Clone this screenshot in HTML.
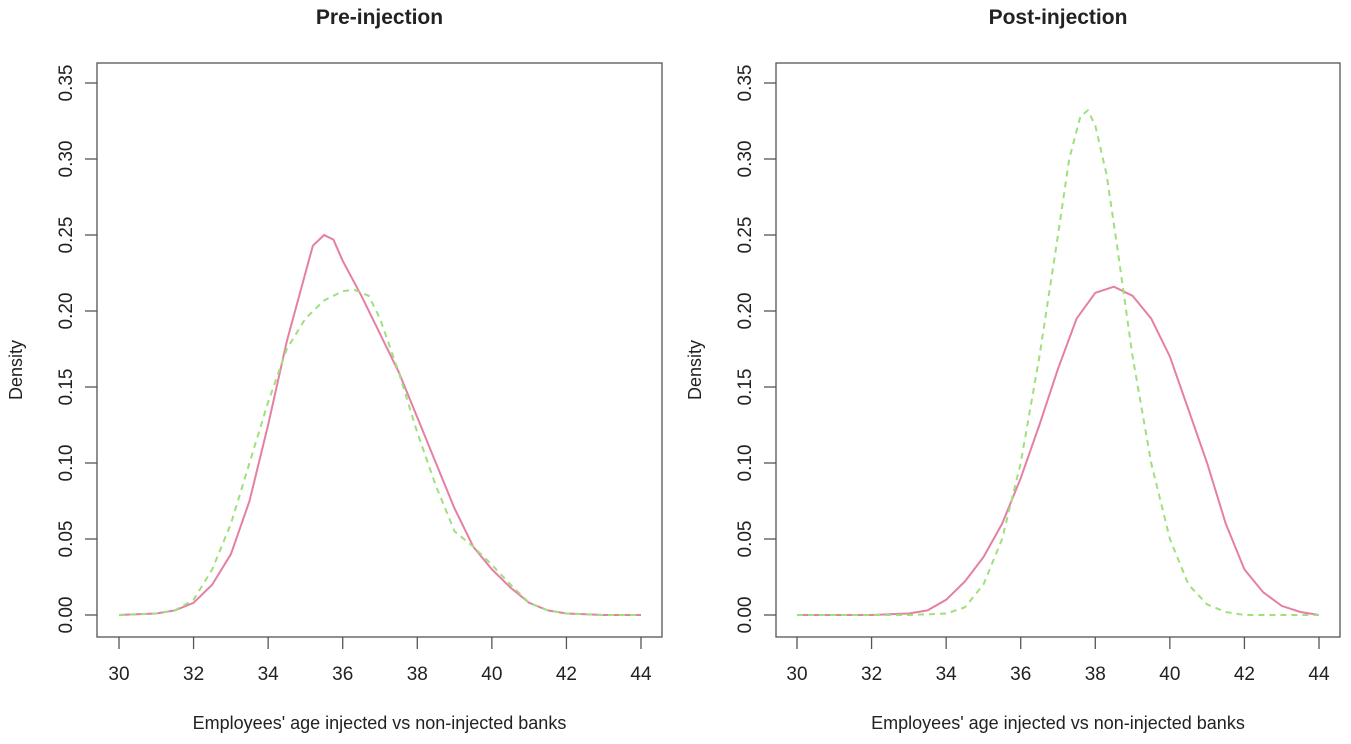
<!DOCTYPE html>
<html><head><meta charset="utf-8"><style>
body{margin:0;background:#fff;}
svg text{font-family:"Liberation Sans",sans-serif;fill:#222;}
</style></head><body>
<svg id="chart" width="1351" height="739" xmlns="http://www.w3.org/2000/svg"></svg>
<script>
const xTicks=[30,32,34,36,38,40,42,44];
const yTicks=[0,0.05,0.10,0.15,0.20,0.25,0.30,0.35];
const yTickLabels=["0.00","0.05","0.10","0.15","0.20","0.25","0.30","0.35"];
const preInjectedX=[30,31,31.5,32,32.5,33,33.5,34,34.5,35,35.2,35.5,35.75,36,36.5,37,37.5,38,38.5,39,39.5,40,40.5,41,41.5,42,43,44];
const preInjectedY=[0,0.001,0.003,0.008,0.02,0.04,0.075,0.125,0.18,0.225,0.243,0.25,0.247,0.233,0.21,0.185,0.16,0.13,0.1,0.07,0.045,0.03,0.018,0.008,0.003,0.001,0,0];
const preNonX=[30,31,31.5,32,32.5,33,33.5,34,34.5,35,35.5,36,36.3,36.7,37,37.5,38,38.5,39,39.5,40,40.5,41,41.5,42,43,44];
const preNonY=[0,0.001,0.003,0.01,0.03,0.06,0.1,0.14,0.175,0.195,0.207,0.213,0.214,0.21,0.195,0.16,0.12,0.085,0.055,0.045,0.033,0.02,0.008,0.003,0.001,0,0];
const postInjectedX=[30,32,33,33.5,34,34.5,35,35.5,36,36.5,37,37.5,38,38.5,39,39.5,40,40.5,41,41.5,42,42.5,43,43.5,44];
const postInjectedY=[0,0,0.001,0.003,0.01,0.022,0.038,0.06,0.09,0.125,0.162,0.195,0.212,0.216,0.21,0.195,0.17,0.135,0.1,0.06,0.03,0.015,0.006,0.002,0];
const postNonX=[30,33,34,34.5,35,35.5,36,36.5,37,37.3,37.6,37.8,38,38.3,38.6,39,39.5,40,40.5,41,41.5,42,43,44];
const postNonY=[0,0,0.001,0.005,0.02,0.05,0.1,0.17,0.25,0.3,0.328,0.332,0.322,0.29,0.24,0.17,0.1,0.05,0.02,0.007,0.002,0,0,0];

const svg=document.getElementById('chart');
const NS='http://www.w3.org/2000/svg';
function mk(t,a,p){const e=document.createElementNS(NS,t);for(const k in a)e.setAttribute(k,a[k]);(p||svg).appendChild(e);return e;}
const panels=[
 {title:"Pre-injection",boxL:97,boxR:662,x30:119,x44:641,pink:[preInjectedX,preInjectedY],green:[preNonX,preNonY],ylabX:15,tickLabX:72},
 {title:"Post-injection",boxL:776,boxR:1340,x30:797,x44:1319,pink:[postInjectedX,postInjectedY],green:[postNonX,postNonY],ylabX:694,tickLabX:751}
];
const plotTop=63,plotBottom=637,y0=615,y35=83;
panels.forEach((p,i)=>{
 const g=mk('g',{});
 
 
 const sx=v=>p.x30+(v-30)*(p.x44-p.x30)/14;
 const sy=v=>y0-v*(y0-y35)/0.35;
 const box=mk('rect',{x:p.boxL,y:plotTop,width:p.boxR-p.boxL,height:plotBottom-plotTop,fill:'none',stroke:'#555','stroke-width':1.3},g);
 
 
 const t=mk('text',{x:(p.boxL+p.boxR)/2,y:24,'text-anchor':'middle','font-size':21,'font-weight':'bold'},g);
 t.textContent=p.title;
 
 
 xTicks.forEach(v=>{
  mk('line',{x1:sx(v),x2:sx(v),y1:plotBottom,y2:plotBottom+12,stroke:'#555','stroke-width':1.3},g);
  const l=mk('text',{x:sx(v),y:680,'text-anchor':'middle','font-size':19},g);
  l.textContent=v;
  
  
 });
 yTicks.forEach((v,k)=>{
  mk('line',{x1:p.boxL,x2:p.boxL-12,y1:sy(v),y2:sy(v),stroke:'#555','stroke-width':1.3},g);
  const l=mk('text',{x:p.tickLabX,y:sy(v),'text-anchor':'middle','font-size':19,transform:`rotate(-90 ${p.tickLabX} ${sy(v)})`},g);
  l.textContent=yTickLabels[k];
  
  
 });
 const xl=mk('text',{x:(p.boxL+p.boxR)/2,y:729,'text-anchor':'middle','font-size':18},g);
 xl.textContent="Employees' age injected vs non-injected banks";
 
 
 const yl=mk('text',{x:p.ylabX+7,y:370,'text-anchor':'middle','font-size':18,transform:`rotate(-90 ${p.ylabX+7} 370)`},g);
 yl.textContent="Density";
 
 
 const pts=(xs,ys)=>xs.map((x,k)=>sx(x).toFixed(1)+','+sy(ys[k]).toFixed(1)).join(' ');
 const pl=mk('polyline',{points:pts(p.pink[0],p.pink[1]),fill:'none',stroke:'#e57fa4','stroke-width':2},g);
 
 
 const gl=mk('polyline',{points:pts(p.green[0],p.green[1]),fill:'none',stroke:'#9fe07e','stroke-width':2,'stroke-dasharray':'6,5'},g);
 
 
});
</script>
</body></html>
